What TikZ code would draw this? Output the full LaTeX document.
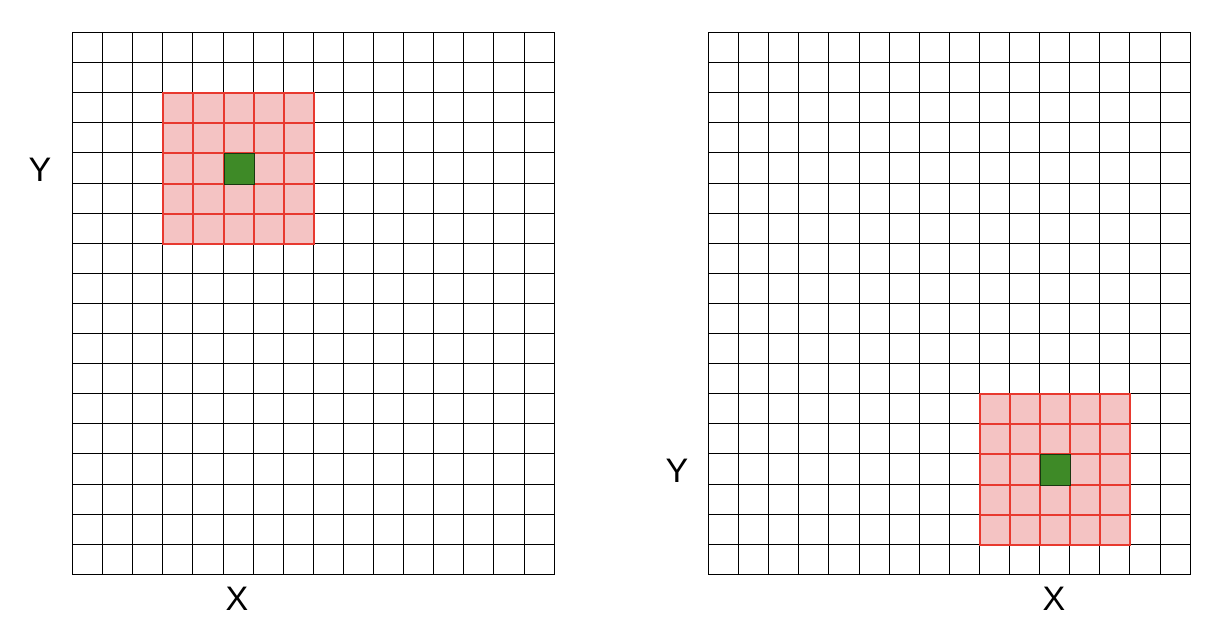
\documentclass[tikz,border=0pt]{standalone}
\usepackage{fontspec}
\setmainfont{Liberation Sans}
\definecolor{pinkfill}{HTML}{F4C3C3}
\definecolor{redline}{HTML}{E8392F}
\definecolor{greencell}{HTML}{3E8A27}
\tikzset{
  gridline/.style={line width=1.3pt, black},
  redgrid/.style={line width=2pt, redline},
  lbl/.style={font=\fontsize{34}{34}\selectfont, inner sep=0pt},
}
\newcommand{\cs}{30.1}
\newcommand{\drawpanel}[4]{%
  % #1,#2 origin (top-left); #3,#4 red region col,row start
  \begin{scope}[shift={(#1,#2)}]
    \pgfmathsetmacro{\xe}{round(16*\cs)+0.5}\pgfmathsetmacro{\ye}{round(18*\cs)+0.5}
    \foreach \i in {0,...,16} {
      \pgfmathsetmacro{\p}{round(\i*\cs)+0.5}
      \draw[gridline] (\p,0.5) -- (\p,\ye);}
    \foreach \j in {0,...,18} {
      \pgfmathsetmacro{\p}{round(\j*\cs)+0.5}
      \draw[gridline] (0.5,\p) -- (\xe,\p);}
    \pgfmathsetmacro{\xa}{round(#3*\cs)+1}\pgfmathsetmacro{\ya}{round(#4*\cs)+1}
    \pgfmathsetmacro{\xb}{round((#3+5)*\cs)+1}\pgfmathsetmacro{\yb}{round((#4+5)*\cs)+1}
    \fill[pinkfill] (\xa-1,\ya-1) rectangle (\xb+1,\yb+1);
    \foreach \k in {0,...,5} {
      \pgfmathsetmacro{\px}{round((#3+\k)*\cs)+1}
      \pgfmathsetmacro{\py}{round((#4+\k)*\cs)+1}
      \draw[redgrid] (\px,\ya-1) -- (\px,\yb+1);
      \draw[redgrid] (\xa-1,\py) -- (\xb+1,\py);
    }
    \pgfmathsetmacro{\gx}{round((#3+2)*\cs)+1}\pgfmathsetmacro{\gy}{round((#4+2)*\cs)+1}
    \pgfmathsetmacro{\hx}{round((#3+3)*\cs)+1}\pgfmathsetmacro{\hy}{round((#4+3)*\cs)+1}
    \fill[greencell, draw=black!60!greencell, line width=1pt] (\gx,\gy) rectangle (\hx,\hy);
  \end{scope}}
\begin{document}
\begin{tikzpicture}[x=1pt,y=-1pt]
\useasboundingbox (0,0) rectangle (1230,642);
\drawpanel{72}{32}{3}{2}
\drawpanel{708}{32}{9}{12}
\node[lbl] (yl) at (40,170) {Y};
\node[lbl] (xl) at (237,599) {X};
\node[lbl] (yr) at (677,471) {Y};
\node[lbl] (xr) at (1054,599) {X};
\end{tikzpicture}
\end{document}
